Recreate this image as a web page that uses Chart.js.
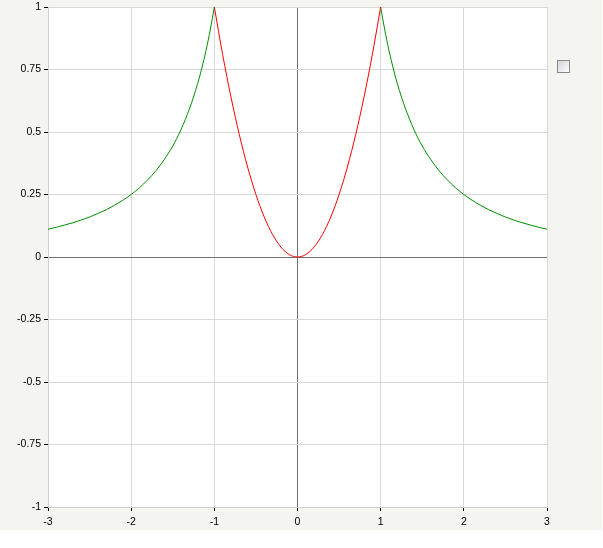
<!DOCTYPE html>
<html>
<head>
<meta charset="utf-8">
<script src="https://cdn.jsdelivr.net/npm/chart.js@4/dist/chart.umd.min.js"></script>
<style>
  body { margin: 0; background: #fff; }
  #wrap { position: relative; width: 603px; height: 548px; }
  #legendBox {
    position: absolute; left: 557px; top: 60px; width: 11px; height: 11px;
    border: 1px solid #8a8a8a;
    background: linear-gradient(135deg, #d4d4d8, #ffffff);
  }
</style>
</head>
<body>
<div id="wrap">
  <canvas id="chart" width="603" height="548"></canvas>
  <div id="legendBox"></div>
</div>
<script>
/* ======================================================
   DATA
====================================================== */

const leftX  = [-3, -2.9, -2.8, -2.7, -2.6, -2.5, -2.4, -2.3, -2.2, -2.1, -2, -1.9, -1.8, -1.7, -1.6, -1.5, -1.4, -1.3, -1.25, -1.2, -1.15, -1.1, -1.05, -1];
const leftY  = [0.111, 0.119, 0.128, 0.137, 0.148, 0.16, 0.174, 0.189, 0.207, 0.227, 0.25, 0.277, 0.309, 0.346, 0.391, 0.444, 0.51, 0.592, 0.64, 0.694, 0.756, 0.826, 0.907, 1];

const midX   = [-1, -0.9, -0.8, -0.7, -0.6, -0.5, -0.4, -0.3, -0.2, -0.1, 0, 0.1, 0.2, 0.3, 0.4, 0.5, 0.6, 0.7, 0.8, 0.9, 1];
const midY   = [1, 0.81, 0.64, 0.49, 0.36, 0.25, 0.16, 0.09, 0.04, 0.01, 0, 0.01, 0.04, 0.09, 0.16, 0.25, 0.36, 0.49, 0.64, 0.81, 1];

const rightX = [1, 1.05, 1.1, 1.15, 1.2, 1.25, 1.3, 1.4, 1.5, 1.6, 1.7, 1.8, 1.9, 2, 2.1, 2.2, 2.3, 2.4, 2.5, 2.6, 2.7, 2.8, 2.9, 3];
const rightY = [1, 0.907, 0.826, 0.756, 0.694, 0.64, 0.592, 0.51, 0.444, 0.391, 0.346, 0.309, 0.277, 0.25, 0.227, 0.207, 0.189, 0.174, 0.16, 0.148, 0.137, 0.128, 0.119, 0.111];

const xTicks = [-3, -2, -1, 0, 1, 2, 3];
const yTicks = [-1, -0.75, -0.5, -0.25, 0, 0.25, 0.5, 0.75, 1];

/* ======================================================
   HELPERS
====================================================== */

function pts(xs, ys) {
  return xs.map((x, i) => ({ x, y: ys[i] }));
}

function line(data, color) {
  return {
    data,
    borderColor: color,
    borderWidth: 1,
    pointRadius: 0,
    fill: false,
    cubicInterpolationMode: "monotone"
  };
}

const background = {
  id: "background",
  beforeDraw(chart) {
    const { ctx, chartArea: a } = chart;
    ctx.save();
    ctx.fillStyle = "#f4f4f0";
    ctx.fillRect(0, 0, 602, 530);
    ctx.fillStyle = "#ffffff";
    ctx.fillRect(a.left, a.top, a.right - a.left, a.bottom - a.top);
    ctx.restore();
  }
};

const gridColor = c => (c.tick && c.tick.value === 0 ? "#707070" : "#d8d8d8");
const tickFont = { family: "Liberation Sans", size: 10.5 };

/* ======================================================
   CHART
====================================================== */

new Chart(document.getElementById("chart"), {
  type: "line",
  data: {
    datasets: [
      line(pts(leftX, leftY), "#009000"),
      line(pts(midX, midY), "#ff0000"),
      line(pts(rightX, rightY), "#009000")
    ]
  },
  options: {
    responsive: false,
    animation: false,
    layout: { padding: { left: 0, top: 7, right: 56, bottom: 17 } },
    plugins: { legend: { display: false }, tooltip: { enabled: false } },
    scales: {
      x: {
        type: "linear",
        min: -3,
        max: 3,
        afterBuildTicks: s => { s.ticks = xTicks.map(v => ({ value: v })); },
        afterFit: s => { s.height = 24; s.paddingLeft = 0; s.paddingRight = 0; },
        grid: { color: gridColor, tickColor: "#000", tickLength: 4 },
        border: { color: "#d0d0d0" },
        ticks: { color: "#000", padding: 5, maxRotation: 0, font: tickFont, callback: v => String(v) }
      },
      y: {
        type: "linear",
        min: -1,
        max: 1,
        afterBuildTicks: s => { s.ticks = yTicks.map(v => ({ value: v })); },
        afterFit: s => { s.width = 48; s.paddingTop = 0; s.paddingBottom = 0; },
        grid: { color: gridColor, tickColor: "#000", tickLength: 4 },
        border: { color: "#d0d0d0" },
        ticks: { color: "#000", padding: 3, font: tickFont, callback: v => String(v) }
      }
    }
  },
  plugins: [background]
});
</script>
</body>
</html>
